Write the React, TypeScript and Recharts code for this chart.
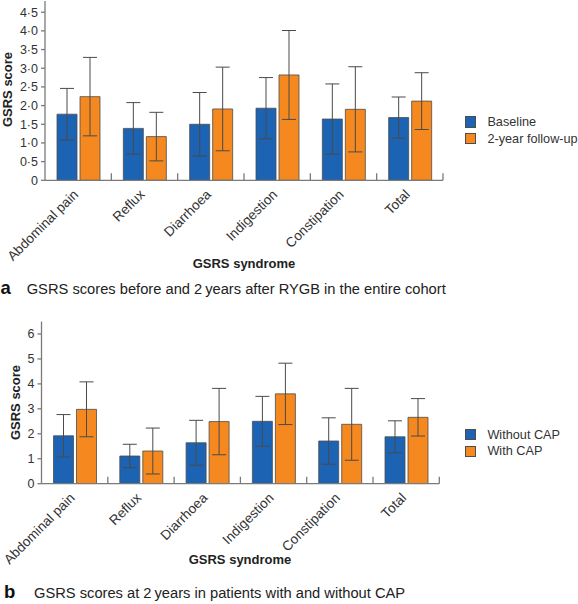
import { Bar, BarChart, ErrorBar, Legend, XAxis, YAxis } from 'recharts';

const categories = ['Abdominal pain', 'Reflux', 'Diarrhoea', 'Indigestion', 'Constipation', 'Total'];

// panel a: before vs 2 years after RYGB (mean, s.d.)
const baselineMean = [1.77, 1.39, 1.5, 1.93, 1.64, 1.68];
const baselineSd = [0.69, 0.69, 0.85, 0.82, 0.94, 0.55];
const followUpMean = [2.24, 1.17, 1.91, 2.82, 1.9, 2.12];
const followUpSd = [1.05, 0.65, 1.12, 1.19, 1.14, 0.76];

// panel b: at 2 years, with / without CAP
const withoutCapMean = [1.92, 1.11, 1.64, 2.5, 1.71, 1.88];
const withoutCapSd = [0.85, 0.47, 0.9, 1.0, 0.93, 0.64];
const withCapMean = [2.98, 1.31, 2.49, 3.6, 2.38, 2.66];
const withCapSd = [1.1, 0.92, 1.33, 1.23, 1.44, 0.75];

const ticksA = [0, 0.5, 1, 1.5, 2, 2.5, 3, 3.5, 4, 4.5];
const ticksB = [0, 1, 2, 3, 4, 5, 6];

const BLUE = '#1c63b3';
const ORANGE = '#f5891f';
const AXIS = '#7a7a7a';
const FONT = '"Liberation Sans", Arial, Helvetica, sans-serif';

function CategoryTick(props: any) {
  const { x, y, payload, step } = props;
  const tx = x + 1;
  const ty = y + 15;
  return (
    <g>
      <line x1={x + step / 2} x2={x + step / 2} y1={y} y2={y - 7} stroke={AXIS} strokeWidth={1.3} />
      <text
        x={tx}
        y={ty}
        transform={`rotate(-45, ${tx}, ${ty})`}
        textAnchor="end"
        fontSize={13.6}
        fill="#333"
        fontFamily={FONT}
      >
        {payload.value}
      </text>
    </g>
  );
}

function LegendList({ payload }: any) {
  const items = [...(payload || [])].sort((m: any, n: any) => String(m.dataKey).localeCompare(String(n.dataKey)));
  return (
    <div style={{ fontFamily: FONT }}>
      {items.map((entry: any) => (
        <div key={entry.value} style={{ display: 'flex', alignItems: 'center', height: 16.7 }}>
          <span
            style={{
              width: 9.4,
              height: 9.4,
              background: entry.color,
              border: '0.8px solid #4d4d4d',
              marginRight: 11,
              flex: 'none',
            }}
          />
          <span style={{ fontSize: 12.7, color: '#333', whiteSpace: 'nowrap' }}>{entry.value}</span>
        </div>
      ))}
    </div>
  );
}

interface PanelProps {
  first: number[];
  firstSd: number[];
  firstName: string;
  second: number[];
  secondSd: number[];
  secondName: string;
  ticks: number[];
  domainMax: number;
  decimal: boolean;
  top: number;
  height: number;
  axisWidth: number;
  margin: { top: number; right: number; bottom: number; left: number };
  legendTop: number;
}

function Panel(p: PanelProps) {
  const data = categories.map((name, i) => ({
    name,
    a: p.first[i],
    aSd: p.firstSd[i],
    b: p.second[i],
    bSd: p.secondSd[i],
  }));
  const step = (578 - p.axisWidth - p.margin.left - p.margin.right) / categories.length;
  const fmt = (v: number) => (p.decimal && v !== 0 ? v.toFixed(1).replace('.', '·') : String(v));

  return (
    <div style={{ position: 'absolute', left: 0, top: p.top }}>
      <BarChart
        width={578}
        height={p.height}
        data={data}
        margin={p.margin}
        barCategoryGap={12}
        barGap={3}
      >
        <XAxis
          dataKey="name"
          height={1}
          interval={0}
          tickSize={0}
          tickMargin={0}
          tickLine={false}
          stroke={AXIS}
          strokeWidth={1.3}
          tick={(t: any) => <CategoryTick {...t} step={step} />}
        />
        <YAxis
          width={p.axisWidth}
          domain={[0, p.domainMax]}
          ticks={p.ticks}
          interval={0}
          tickFormatter={fmt}
          tickSize={4}
          tickMargin={3}
          stroke={AXIS}
          strokeWidth={1.3}
          tick={{ fill: '#333', fontSize: 12.5, fontFamily: FONT }}
          allowDataOverflow
        />
        <Legend
          layout="vertical"
          align="center"
          verticalAlign="middle"
          wrapperStyle={{ left: 465, top: p.legendTop, width: 113 }}
          content={<LegendList />}
        />
        <Bar dataKey="a" name={p.firstName} fill={BLUE} stroke="#4d4d4d" strokeWidth={0.8} isAnimationActive={false}>
          <ErrorBar dataKey="aSd" width={7} stroke="#4a4a4a" strokeWidth={1} />
        </Bar>
        <Bar dataKey="b" name={p.secondName} fill={ORANGE} stroke="#4d4d4d" strokeWidth={0.8} isAnimationActive={false}>
          <ErrorBar dataKey="bSd" width={7} stroke="#4a4a4a" strokeWidth={1} />
        </Bar>
      </BarChart>
    </div>
  );
}

export default function App() {
  return (
    <div
      style={{
        position: 'absolute',
        left: 0,
        top: 0,
        width: 578,
        height: 604,
        overflow: 'hidden',
        background: '#fff',
        fontFamily: FONT,
      }}
    >
      <Panel
        first={baselineMean}
        firstSd={baselineSd}
        firstName="Baseline"
        second={followUpMean}
        secondSd={followUpSd}
        secondName="2-year follow-up"
        ticks={ticksA}
        domainMax={4.8}
        decimal
        top={0}
        height={300}
        axisWidth={45}
        margin={{ top: 1, right: 135, bottom: 118.7, left: 0 }}
        legendTop={113.7}
      />
      <Panel
        first={withoutCapMean}
        firstSd={withoutCapSd}
        firstName="Without CAP"
        second={withCapMean}
        secondSd={withCapSd}
        secondName="With CAP"
        ticks={ticksB}
        domainMax={6.5}
        decimal={false}
        top={310}
        height={294}
        axisWidth={41.5}
        margin={{ top: 11.5, right: 138.7, bottom: 119.3, left: 0 }}
        legendTop={116.3}
      />
      <svg
        width={578}
        height={604}
        style={{ position: 'absolute', left: 0, top: 0, pointerEvents: 'none' }}
        fontFamily={FONT}
      >
        <text x={11.7} y={89.5} transform="rotate(-90, 11.7, 89.5)" textAnchor="middle" fontSize={13} fontWeight="bold" fill="#222">
          GSRS score
        </text>
        <text x={244} y={268} textAnchor="middle" fontSize={13} fontWeight="bold" fill="#222">
          GSRS syndrome
        </text>
        <text x={0.5} y={294} fontSize={18.5} fontWeight="bold" fill="#111">a</text>
        <text x={26.7} y={294} fontSize={14.7} fill="#222">
          GSRS scores before and 2{'\u2009'}years after RYGB in the entire cohort
        </text>

        <text x={19.7} y={402.5} transform="rotate(-90, 19.7, 402.5)" textAnchor="middle" fontSize={13} fontWeight="bold" fill="#222">
          GSRS score
        </text>
        <text x={240} y={564} textAnchor="middle" fontSize={13} fontWeight="bold" fill="#222">
          GSRS syndrome
        </text>
        <text x={4} y={598} fontSize={18.5} fontWeight="bold" fill="#111">b</text>
        <text x={34} y={598} fontSize={14.7} fill="#222">
          GSRS scores at 2{'\u2009'}years in patients with and without CAP
        </text>
      </svg>
    </div>
  );
}
